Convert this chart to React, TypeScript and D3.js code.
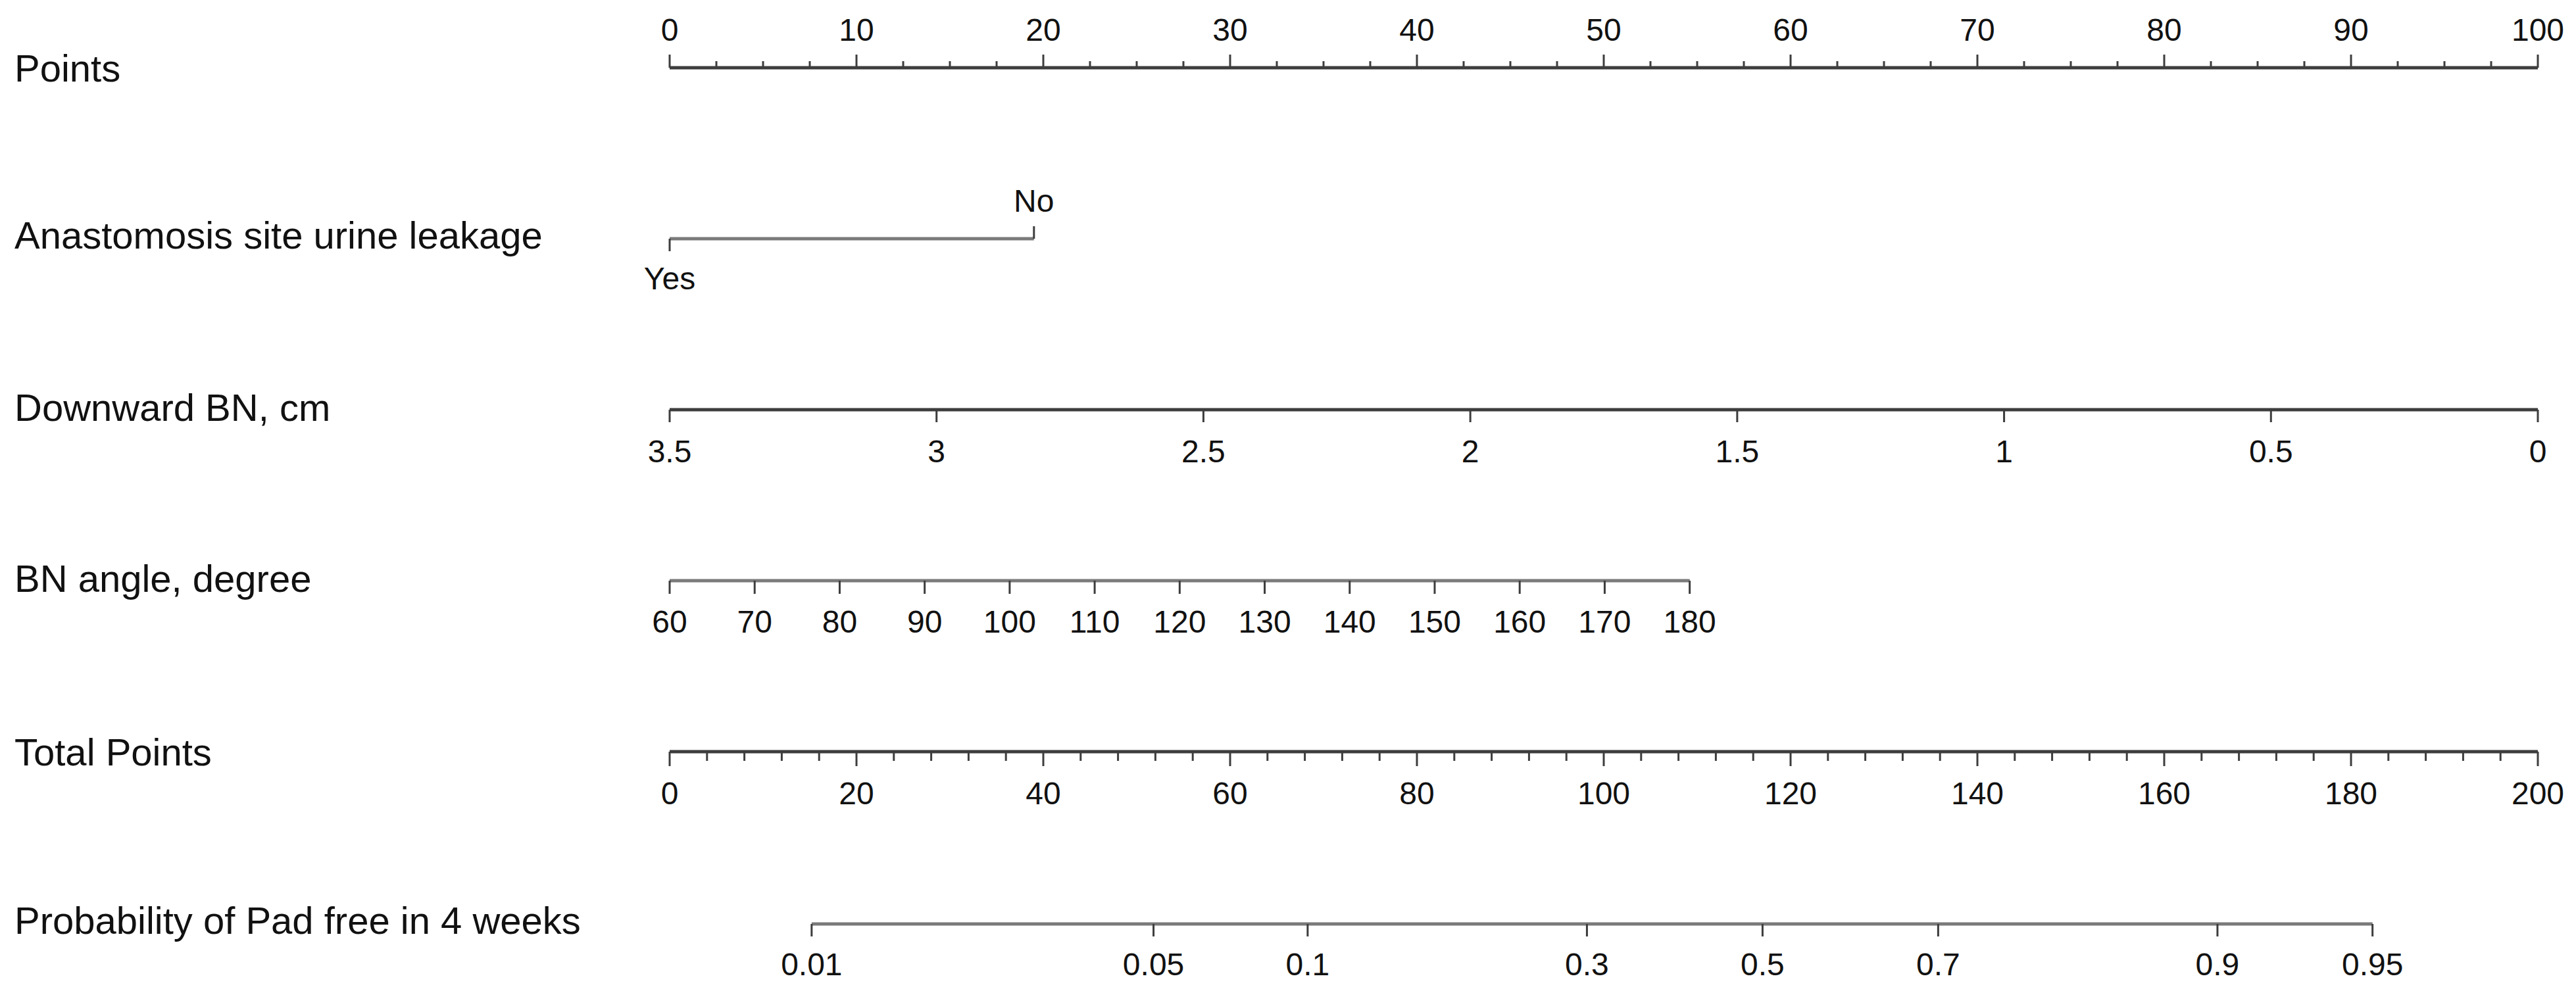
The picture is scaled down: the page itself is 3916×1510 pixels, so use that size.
import React, { useEffect } from "react";
import * as d3 from "d3";

// ---- Data ----
const rowTitles = [
  "Points",
  "Anastomosis site urine leakage",
  "Downward BN, cm",
  "BN angle, degree",
  "Total Points",
  "Probability of Pad free in 4 weeks",
];

const pointsMajorTicks = [0, 10, 20, 30, 40, 50, 60, 70, 80, 90, 100];
const pointsMinorStep = 2.5;

const anastomosisLevels = ["Yes", "No"];
const anastomosisPoints = [0, 19.5];

const downwardBNTicks = [3.5, 3, 2.5, 2, 1.5, 1, 0.5, 0];
const downwardBNDomain = [3.5, 0];
const downwardBNPointsRange = [0, 100];

const bnAngleTicks = [60, 70, 80, 90, 100, 110, 120, 130, 140, 150, 160, 170, 180];
const bnAngleDomain = [60, 180];
const bnAnglePointsRange = [0, 54.6];

const totalPointsTicks = [0, 20, 40, 60, 80, 100, 120, 140, 160, 180, 200];
const totalPointsMinorStep = 4;

const probTicks = [0.01, 0.05, 0.1, 0.3, 0.5, 0.7, 0.9, 0.95];
const probTotalPoints = [15.2, 51.8, 68.3, 98.2, 117.0, 135.8, 165.7, 182.3];

// ---- Layout ----
const W = 3916;
const H = 1510;
const X0 = 1018;
const X1 = 3858;
const TITLE_X = 22;
const TITLE_FS = 58;
const TICK_FS = 48;
const FONT = "'Liberation Sans', Arial, Helvetica, sans-serif";
const DARK = "#3d3d3d";
const MID = "#7a7a7a";
const TXT = "#111";

export default function App() {
  useEffect(() => {
    document.body.style.margin = "0";
  }, []);

  const xPoints = d3.scaleLinear().domain([0, 100]).range([X0, X1]);
  const xTotal = d3.scaleLinear().domain([0, 200]).range([X0, X1]);
  const dbnToPts = d3.scaleLinear().domain(downwardBNDomain).range(downwardBNPointsRange);
  const angleToPts = d3.scaleLinear().domain(bnAngleDomain).range(bnAnglePointsRange);
  const probToTotal = d3.scaleOrdinal<number, number>().domain(probTicks).range(probTotalPoints);

  const pointsMinor = d3.range(0, 100 + 1e-9, pointsMinorStep).filter((v) => v % 10 !== 0);
  const totalMinor = d3.range(0, 200 + 1e-9, totalPointsMinorStep).filter((v) => v % 20 !== 0);

  const rows = {
    points: { line: 103, title: 124 },
    anast: { line: 363, title: 378 },
    dbn: { line: 623, title: 640 },
    angle: { line: 883, title: 900 },
    total: { line: 1143, title: 1164 },
    prob: { line: 1405, title: 1420 },
  };
  const titleYs = [rows.points.title, rows.anast.title, rows.dbn.title, rows.angle.title, rows.total.title, rows.prob.title];

  const lineW = 5;
  const tickW = 3;

  const anastX = anastomosisPoints.map((p) => xPoints(p));
  const dbnX = downwardBNTicks.map((v) => xPoints(dbnToPts(v)));
  const angleX = bnAngleTicks.map((v) => xPoints(angleToPts(v)));
  const probX = probTicks.map((p) => xTotal(probToTotal(p)));

  return (
    <svg
      width={W}
      height={H}
      viewBox={`0 0 ${W} ${H}`}
      style={{ position: "absolute", left: 0, top: 0, background: "#fff", display: "block" }}
      fontFamily={FONT}
    >
      <rect x={0} y={0} width={W} height={H} fill="#fff" />

      {/* Titles */}
      {rowTitles.map((t, i) => (
        <text key={t} x={TITLE_X} y={titleYs[i]} fontSize={TITLE_FS} fill={TXT}>
          {t}
        </text>
      ))}

      {/* Points axis */}
      <g>
        <line x1={xPoints(0)} x2={xPoints(100)} y1={rows.points.line} y2={rows.points.line} stroke={DARK} strokeWidth={lineW} />
        {pointsMinor.map((v) => (
          <line key={"pm" + v} x1={xPoints(v)} x2={xPoints(v)} y1={rows.points.line} y2={rows.points.line - 10} stroke={DARK} strokeWidth={tickW} />
        ))}
        {pointsMajorTicks.map((v) => (
          <g key={"pM" + v}>
            <line x1={xPoints(v)} x2={xPoints(v)} y1={rows.points.line} y2={rows.points.line - 20} stroke={DARK} strokeWidth={tickW} />
            <text x={xPoints(v)} y={62} fontSize={TICK_FS} textAnchor="middle" fill={TXT}>
              {v}
            </text>
          </g>
        ))}
      </g>

      {/* Anastomosis site urine leakage */}
      <g>
        <line x1={anastX[0]} x2={anastX[1]} y1={rows.anast.line} y2={rows.anast.line} stroke={MID} strokeWidth={lineW} />
        <line x1={anastX[0]} x2={anastX[0]} y1={rows.anast.line} y2={rows.anast.line + 19} stroke={DARK} strokeWidth={tickW} />
        <line x1={anastX[1]} x2={anastX[1]} y1={rows.anast.line} y2={rows.anast.line - 19} stroke={DARK} strokeWidth={tickW} />
        <text x={anastX[0]} y={440} fontSize={TICK_FS} textAnchor="middle" fill={TXT}>
          {anastomosisLevels[0]}
        </text>
        <text x={anastX[1]} y={322} fontSize={TICK_FS} textAnchor="middle" fill={TXT}>
          {anastomosisLevels[1]}
        </text>
      </g>

      {/* Downward BN */}
      <g>
        <line x1={d3.min(dbnX)} x2={d3.max(dbnX)} y1={rows.dbn.line} y2={rows.dbn.line} stroke={DARK} strokeWidth={lineW} />
        {downwardBNTicks.map((v, i) => (
          <g key={"d" + v}>
            <line x1={dbnX[i]} x2={dbnX[i]} y1={rows.dbn.line} y2={rows.dbn.line + 19} stroke={DARK} strokeWidth={tickW} />
            <text x={dbnX[i]} y={703} fontSize={TICK_FS} textAnchor="middle" fill={TXT}>
              {v}
            </text>
          </g>
        ))}
      </g>

      {/* BN angle */}
      <g>
        <line x1={d3.min(angleX)} x2={d3.max(angleX)} y1={rows.angle.line} y2={rows.angle.line} stroke={MID} strokeWidth={lineW} />
        {bnAngleTicks.map((v, i) => (
          <g key={"a" + v}>
            <line x1={angleX[i]} x2={angleX[i]} y1={rows.angle.line} y2={rows.angle.line + 20} stroke={DARK} strokeWidth={tickW} />
            <text x={angleX[i]} y={962} fontSize={TICK_FS} textAnchor="middle" fill={TXT}>
              {v}
            </text>
          </g>
        ))}
      </g>

      {/* Total points */}
      <g>
        <line x1={xTotal(0)} x2={xTotal(200)} y1={rows.total.line} y2={rows.total.line} stroke={DARK} strokeWidth={lineW} />
        {totalMinor.map((v) => (
          <line key={"tm" + v} x1={xTotal(v)} x2={xTotal(v)} y1={rows.total.line} y2={rows.total.line + 14} stroke={DARK} strokeWidth={tickW} />
        ))}
        {totalPointsTicks.map((v) => (
          <g key={"tM" + v}>
            <line x1={xTotal(v)} x2={xTotal(v)} y1={rows.total.line} y2={rows.total.line + 22} stroke={DARK} strokeWidth={tickW} />
            <text x={xTotal(v)} y={1223} fontSize={TICK_FS} textAnchor="middle" fill={TXT}>
              {v}
            </text>
          </g>
        ))}
      </g>

      {/* Probability */}
      <g>
        <line x1={d3.min(probX)} x2={d3.max(probX)} y1={rows.prob.line} y2={rows.prob.line} stroke={MID} strokeWidth={lineW} />
        {probTicks.map((p, i) => (
          <g key={"p" + p}>
            <line x1={probX[i]} x2={probX[i]} y1={rows.prob.line} y2={rows.prob.line + 19} stroke={DARK} strokeWidth={tickW} />
            <text x={probX[i]} y={1483} fontSize={TICK_FS} textAnchor="middle" fill={TXT}>
              {p}
            </text>
          </g>
        ))}
      </g>
    </svg>
  );
}
